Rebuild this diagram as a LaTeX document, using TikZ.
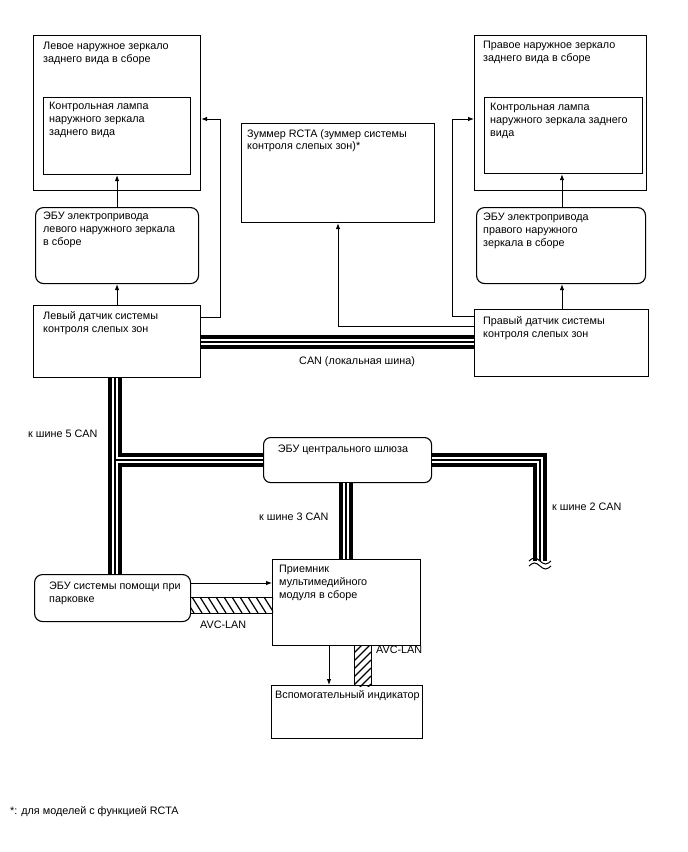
\documentclass[tikz,border=0pt]{standalone}
\usepackage{fontspec}
\setmainfont{Liberation Sans}
\usetikzlibrary{arrows.meta}
\begin{document}
\begin{tikzpicture}[x=1pt,y=-1pt,
  box/.style={draw, line width=1.1pt, inner sep=0pt, anchor=north west},
  rbox/.style={box, rounded corners=8pt},
  txt/.style={inner sep=0pt, anchor=north west, align=left,
    font=\fontsize{10.8}{12.8}\selectfont, execute at begin node={\rule{0pt}{9pt}}},
  arr/.style={line width=0.9pt, -{Latex[length=6pt,width=4.5pt]}},
  hatchline/.style={line width=1.2pt},
]
\useasboundingbox (0,0) rectangle (688,852);

% ---- boxes ----
\node[box, minimum width=167pt, minimum height=155pt] (lmir) at (33,35) {};
\node[box, minimum width=147pt, minimum height=77pt] (llamp) at (43,97) {};
\node[rbox, minimum width=163pt, minimum height=76pt] (lecu) at (35,207) {};
\node[box, minimum width=167pt, minimum height=72pt] (lsens) at (33,305) {};
\node[box, minimum width=193pt, minimum height=99pt] (buzz) at (241,123) {};
\node[box, minimum width=172pt, minimum height=155pt] (rmir) at (474,35) {};
\node[box, minimum width=158pt, minimum height=76pt] (rlamp) at (484,97) {};
\node[rbox, minimum width=169pt, minimum height=76pt] (recu) at (476,207) {};
\node[box, minimum width=174pt, minimum height=67pt] (rsens) at (474,309) {};
\node[box, rounded corners=7pt, minimum width=168pt, minimum height=45pt] (gw) at (263,437) {};
\node[rbox, minimum width=156pt, minimum height=47pt] (park) at (34,574) {};
\node[box, minimum width=148pt, minimum height=86pt] (mm) at (272,559) {};
\node[box, minimum width=151pt, minimum height=53pt] (aux) at (271,685) {};

% ---- texts ----
\node[txt] (lmir-t) at (43,42) {Левое наружное зеркало\\заднего вида в сборе};
\node[txt] (llamp-t) at (49,102) {Контрольная лампа\\наружного зеркала\\заднего вида};
\node[txt] (lecu-t) at (43,212) {ЭБУ электропривода\\левого наружного зеркала\\в сборе};
\node[txt] (lsens-t) at (43,311) {Левый датчик системы\\контроля слепых зон};
\node[txt] (buzz-t) at (247,129) {Зуммер RCTA (зуммер системы\\контроля слепых зон)*};
\node[txt] (rmir-t) at (483,41) {Правое наружное зеркало\\заднего вида в сборе};
\node[txt] (rlamp-t) at (490,103) {Контрольная лампа\\наружного зеркала заднего\\вида};
\node[txt] (recu-t) at (483,213) {ЭБУ электропривода\\правого наружного\\зеркала в сборе};
\node[txt] (rsens-t) at (483,316) {Правый датчик системы\\контроля слепых зон};
\node[txt, anchor=north] (gw-t) at (343,443) {ЭБУ центрального шлюза};
\node[txt] (park-t) at (49,582) {ЭБУ системы помощи при\\парковке};
\node[txt] (mm-t) at (279,565) {Приемник\\мультимедийного\\модуля в сборе};
\node[txt] (aux-t) at (275,689) {Вспомогательный индикатор};

\node[txt] (can-l) at (299,355) {CAN (локальная шина)};
\node[txt] (can5) at (28,428) {к шине 5 CAN};
\node[txt] (can3) at (259,511) {к шине 3 CAN};
\node[txt] (can2) at (552,501) {к шине 2 CAN};
\node[txt] (avc1-t) at (200,619) {AVC-LAN};
\node[txt] (avc2-t) at (376,644) {AVC-LAN};
\node[txt] (note) at (10,805) {*: для моделей с функцией RCTA};

% ---- CAN buses (layered twisted-pair look) ----
\coordinate (j1) at (115,460);
\coordinate (c2) at (540,460);
\coordinate (b2) at (540,561);
\foreach \w/\c in {14pt/black, 6.5pt/white, 2pt/black}{
  \draw[line width=\w, \c, line join=miter] (lsens.east |- 0,342) -- (rsens.west |- 0,342);
  \draw[line width=\w, \c] (lsens.south -| j1) -- (park.north -| j1);
  \draw[line width=\w, \c] (j1) -- (gw.west |- j1);
  \draw[line width=\w, \c, line join=miter] (gw.east |- j1) -- (c2) -- (b2);
  \draw[line width=\w, \c] (gw.south -| 346,0) -- (mm.north -| 346,0);
}
% break marks
\draw[line width=1pt] (529,561) sin (534.5,558) cos (540,561) sin (545.5,564) cos (551,561);
\draw[line width=1pt] (529,566) sin (534.5,563) cos (540,566) sin (545.5,569) cos (551,566);

% ---- AVC-LAN hatched bands ----
\node[draw, line width=1pt, inner sep=0pt, anchor=north west, minimum width=82pt, minimum height=16pt] (avc1) at (190,597) {};
\begin{scope}
  \clip (avc1.north west) rectangle (avc1.south east);
  \foreach \x in {176,184,...,276}{
    \draw[hatchline] (\x,597) -- (\x+10,613);
  }
\end{scope}
\node[draw, line width=1pt, inner sep=0pt, anchor=north west, minimum width=17pt, minimum height=40pt] (avc2) at (354,645) {};
\begin{scope}
  \clip (avc2.north west) rectangle (avc2.south east);
  \foreach \y in {645,653,...,709}{
    \draw[hatchline] (354,\y) -- (371,\y-17);
  }
\end{scope}

% ---- arrows ----
\draw[arr] (lsens.north) -- (lecu.south);
\draw[arr] (lecu.north) -- (llamp.south);
\draw[arr] (lsens.east |- 0,317) -- (220,317) -- (220,119) -- (lmir.east |- 0,119);
\draw[arr] (rsens.north -| 562,0) -- (recu.south -| 562,0);
\draw[arr] (recu.north -| 562,0) -- (rlamp.south -| 562,0);
\draw[arr] (rsens.west |- 0,316) -- (452,316) -- (452,119) -- (rmir.west |- 0,119);
\draw[arr] (rsens.west |- 0,326) -- (338,326) -- (buzz.south -| 338,0);
\draw[arr] (park.east |- 0,583) -- (mm.west |- 0,583);
\draw[arr] (mm.south -| 329,0) -- (aux.north -| 329,0);
\end{tikzpicture}
\end{document}
